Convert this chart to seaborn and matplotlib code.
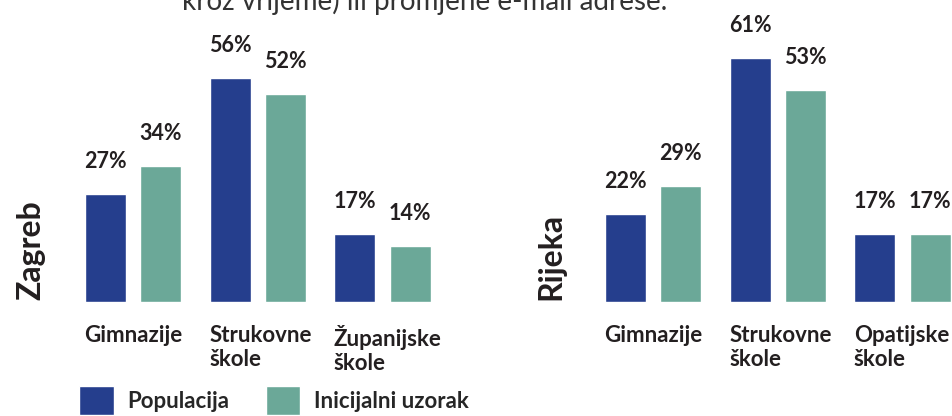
import numpy as np
import pandas as pd

import matplotlib
matplotlib.use("Agg")
import matplotlib.pyplot as plt
import seaborn as sns


# ============================================================
# DATA
# ============================================================

series = ["Populacija", "Inicijalni uzorak"]

zagreb_categories = ["Gimnazije", "Strukovne\nškole", "Županijske\nškole"]
zagreb_populacija = [27, 56, 17]
zagreb_uzorak = [34, 52, 14]

rijeka_categories = ["Gimnazije", "Strukovne\nškole", "Opatijske\nškole"]
rijeka_populacija = [22, 61, 17]
rijeka_uzorak = [29, 53, 17]

COLORS = ["#253E8D", "#6BA898"]
TEXT = "#231F20"


def make_frame(categories, pop, uzorak):
    return pd.DataFrame({
        "category": categories * 2,
        "series": [series[0]] * len(categories) + [series[1]] * len(categories),
        "value": pop + uzorak,
    })


sns.set_theme(style="white")
plt.rcParams["font.family"] = ["Lato", "DejaVu Sans"]

W, H = 953, 416
fig = plt.figure(figsize=(W / 100, H / 100), dpi=100)


def px_axes(left, right, top, bottom):
    return fig.add_axes([left / W, 1 - bottom / H, (right - left) / W, (bottom - top) / H])


panels = [
    ("Zagreb", zagreb_categories, zagreb_populacija, zagreb_uzorak, 70, 450, 133, 31),
    ("Rijeka", rijeka_categories, rijeka_populacija, rijeka_uzorak, 590, 953, 653, 551),
]

GROUP_PX = 124.75

for city, cats, pop, uz, left, right, first_center, city_x in panels:
    ax = px_axes(left, right, 30, 302)
    df = make_frame(cats, pop, uz)
    sns.barplot(
        data=df, x="category", y="value", hue="series",
        palette=COLORS, width=0.884, gap=0.255,
        saturation=1, ax=ax, legend=True,
    )
    ax.set_xlim(-(first_center - left) / GROUP_PX,
                -(first_center - left) / GROUP_PX + (right - left) / GROUP_PX)
    ax.set_ylim(0, 68)
    for c in ax.containers:
        ax.bar_label(c, labels=[f"{v:.0f}%" for v in c.datavalues],
                     padding=16, fontsize=15.5, fontweight="bold", color=TEXT)
    ax.set_xticks([])
    ax.set_yticks([])
    ax.set_xlabel("")
    ax.set_ylabel("")
    sns.despine(ax=ax, left=True, bottom=True)

    for i, cat in enumerate(cats):
        ax.text(i - 0.39, -0.085, cat, transform=ax.get_xaxis_transform(),
                ha="left", va="top", fontsize=16, fontweight="bold",
                color=TEXT, linespacing=1.15)

    fig.text(city_x / W, 1 - 300 / H, city, rotation=90, ha="center",
             va="bottom", fontsize=23, fontweight="bold", color=TEXT)

    handles, labels = ax.get_legend_handles_labels()
    ax.get_legend().remove()

fig.text(182 / W, 1 - 1 / H, "kroz vrijeme) ili promjene e-mail adrese.",
         ha="left", va="center", fontsize=20, color="#333333")

fig.legend(handles, labels, loc="upper left",
           bbox_to_anchor=(76 / W, 1 - 383 / H), ncol=2, frameon=False,
           prop={"weight": "bold", "size": 16},
           handlelength=1.55, handleheight=1.6, handletextpad=0.6,
           columnspacing=1.65, borderaxespad=0, borderpad=0.15)

plt.savefig("out.png", dpi=100)
